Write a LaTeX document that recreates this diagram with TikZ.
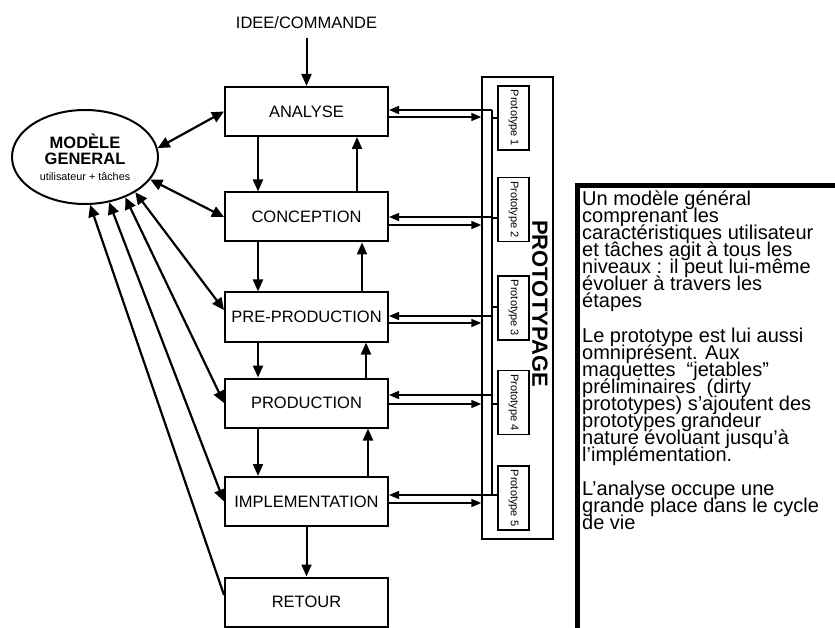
\documentclass[tikz,border=0pt]{standalone}
\usepackage{fontspec}
\setmainfont{Liberation Sans}
\usepackage{tikz}
\usetikzlibrary{arrows.meta}
\usetikzlibrary{shapes}
\usetikzlibrary{positioning}
\setlength{\lineskiplimit}{-20pt}

\begin{document}
\begin{tikzpicture}[x=1pt,y=-1pt]
      \useasboundingbox (0,0) rectangle (835,628);

      \tikzstyle{lien}=[<->,line width=2.2pt,>={Triangle[length=12pt,width=11pt]}]
      \tikzstyle{pas}=[->,line width=2pt,>={Triangle[length=12pt,width=10pt]}]
      \tikzstyle{aller}=[->,line width=1.5pt,>={Triangle[length=10pt,width=8pt]}]

      \begin{scope}[shape=rectangle,minimum width=163pt,minimum height=49pt,inner sep=0pt,line width=2pt,font=\fontsize{16.5}{18}\selectfont]
          \tikzstyle{every node}=[draw]
          \node (analyse)    at (306.5,111.5) {ANALYSE};
          \node (conception) at (306.5,217)   {CONCEPTION};
          \node (preprod)    at (306.5,317)   {PRE-PRODUCTION};
          \node (prod)       at (306.5,403)   {PRODUCTION};
          \node (implem)     at (306.5,501.5) {IMPLEMENTATION};
          \node (retour)     at (306.5,602)   {RETOUR};
      \end{scope}

      \node[font=\fontsize{16.5}{18}\selectfont] (idee) at (306.5,23) {IDEE/COMMANDE};

      \node[draw,ellipse,line width=2pt,minimum width=146pt,minimum height=94pt,inner sep=0pt,align=center,
            font=\fontsize{16.5}{16}\selectfont\bfseries] (modele) at (85,157)
            {MODÈLE\\GENERAL\\{\fontsize{10.8}{17}\selectfont\mdseries utilisateur + tâches}};

      % colonne des prototypes
      \node[draw,line width=1.5pt,minimum width=71pt,minimum height=462pt,inner sep=0pt] (colonne) at (517.5,308) {};
      \node[rotate=-90,font=\fontsize{22}{22}\selectfont\bfseries] (titre) at (540,303.5) {PROTOTYPAGE};
      \begin{scope}[minimum width=64pt,minimum height=31pt,inner sep=0pt,line width=1.8pt,font=\fontsize{11}{12}\selectfont]
          \tikzstyle{every node}=[draw,rotate=-90]
          \node (p1) at (513.5,118)   {Prototype 1};
          \node (p2) at (513.5,209.5) {Prototype 2};
          \node (p3) at (513.5,308)   {Prototype 3};
          \node (p4) at (513.5,402.5) {Prototype 4};
          \node (p5) at (513.5,498)   {Prototype 5};
      \end{scope}

      \coordinate (haut) at (492,110);
      \coordinate (bas)  at (492,495);
      \draw[line width=1.5pt] (haut) -- (bas);
      \draw[line width=1.5pt] (haut |- 0,118) -- (p1.south |- 0,118);
      \draw[line width=1.5pt] (haut |- 0,218) -- (p2.south |- 0,218);
      \draw[line width=1.5pt] (haut |- 0,307) -- (p3.south |- 0,307);
      \draw[line width=1.5pt] (haut |- 0,404) -- (p4.south |- 0,404);
      \draw[line width=1.5pt] (haut |- 0,495) -- (p5.south |- 0,495);

      \draw[aller] (haut)           -- (analyse.east |- haut);
      \draw[aller] (analyse.east |- 0,117)    -- (colonne.west |- 0,117);
      \draw[aller] (haut |- 0,217)  -- (conception.east |- 0,217);
      \draw[aller] (conception.east |- 0,225) -- (colonne.west |- 0,225);
      \draw[aller] (haut |- 0,316)  -- (preprod.east |- 0,316);
      \draw[aller] (preprod.east |- 0,323)    -- (colonne.west |- 0,323);
      \draw[aller] (haut |- 0,395)  -- (prod.east |- 0,395);
      \draw[aller] (prod.east |- 0,404)       -- (colonne.west |- 0,404);
      \draw[aller] (bas)            -- (implem.east |- bas);
      \draw[aller] (implem.east |- 0,503)     -- (colonne.west |- 0,503);

      % cycle de vie
      \draw[pas] ([yshift=-5pt]idee.south) -- (analyse.north);
      \draw[pas] ([xshift=-48.5pt]analyse.south)    -- ([xshift=-48.5pt]conception.north);
      \draw[pas] ([xshift=-48.5pt]conception.south) -- ([xshift=-48.5pt]preprod.north);
      \draw[pas] ([xshift=-48.5pt]preprod.south)    -- ([xshift=-48.5pt]prod.north);
      \draw[pas] ([xshift=-48.5pt]prod.south)       -- ([xshift=-48.5pt]implem.north);
      \draw[pas] (implem.south) -- (retour.north);
      \draw[pas] ([xshift=50.5pt]conception.north)  -- ([xshift=50.5pt]analyse.south);
      \draw[pas] ([xshift=55.5pt]preprod.north)     -- ([xshift=55.5pt]conception.south);
      \draw[pas] ([xshift=59.5pt]prod.north)        -- ([xshift=59.5pt]preprod.south);
      \draw[pas] ([xshift=61.5pt]implem.north)      -- ([xshift=61.5pt]prod.south);

      % modele general
      \draw[lien] (modele.7)   -- (analyse.west);
      \draw[lien] (modele.-19) -- (conception.west);
      \draw[lien] (modele.-35) -- ([yshift=7pt]preprod.west);
      \draw[lien] (modele.-45) -- (prod.west);
      \draw[lien] (modele.-62) -- (implem.west);
      \draw[lien,-{Triangle[length=12pt,width=11pt]}] ([yshift=7pt]retour.west) -- (modele.-84);

      % commentaire
      \draw[line width=5pt] (577.5,628) -- (577.5,186) -- (835,186);
      \node[anchor=north west,inner sep=0pt,align=left,font=\fontsize{20}{17}\selectfont] (note) at (582,191)
      {Un modèle général\\
       comprenant les\\
       caractéristiques utilisateur\\
       et tâches agit à tous les\\
       niveaux : il peut lui-même\\
       évoluer à travers les\\
       étapes\\[18pt]
       Le prototype est lui aussi\\
       omniprésent. Aux\\
       maquettes~ “jetables”\\
       préliminaires~ (dirty\\
       prototypes) s’ajoutent des\\
       prototypes grandeur\\
       nature évoluant jusqu’à\\
       l’implémentation.\\[17pt]
       L’analyse occupe une\\
       grande place dans le cycle\\
       de vie};
\end{tikzpicture}
\end{document}
